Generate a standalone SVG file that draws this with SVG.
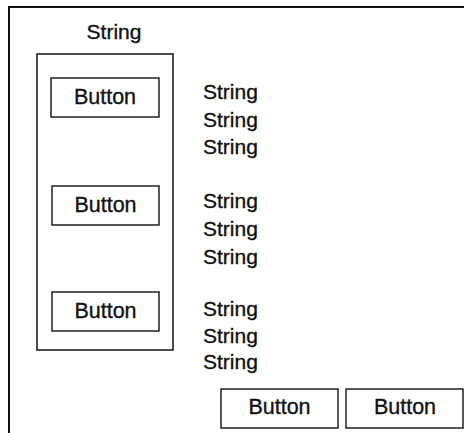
<svg xmlns="http://www.w3.org/2000/svg" width="464" height="433" viewBox="0 0 464 433">
  <style>
    .frame { fill: none; stroke: #111; stroke-width: 2; }
    .panel { fill: none; stroke: #111; stroke-width: 1.5; }
    .btn rect { fill: #fff; stroke: #111; stroke-width: 1.4; }
    text { font-family: "Liberation Sans", Arial, Helvetica, sans-serif; fill: #111; stroke: #111; stroke-width: 0.35; }
    .btn text { font-size: 21.5px; text-anchor: middle; }
    .lbl { font-size: 21px; }
  </style>
  <rect width="464" height="433" fill="#fff"/>

  <!-- outer window frame (right and bottom edges lie outside the view) -->
  <g id="window">
    <rect class="frame" x="9" y="7" width="520" height="500"/>
  </g>

  <g id="title">
    <text class="lbl" x="114" y="39" text-anchor="middle">String</text>
  </g>

  <!-- button column -->
  <g id="panel">
    <rect class="panel" x="37" y="54" width="136" height="296"/>
  </g>
  <g id="button1" class="btn">
    <rect x="51" y="78" width="108" height="39"/>
    <text x="105" y="104">Button</text>
  </g>
  <g id="button2" class="btn">
    <rect x="52" y="186" width="107" height="39"/>
    <text x="105.5" y="212">Button</text>
  </g>
  <g id="button3" class="btn">
    <rect x="52" y="292" width="107" height="39"/>
    <text x="105.5" y="318">Button</text>
  </g>

  <!-- label groups -->
  <g id="labels1">
    <text class="lbl" x="203" y="99">String</text>
    <text class="lbl" x="203" y="127">String</text>
    <text class="lbl" x="203" y="154">String</text>
  </g>
  <g id="labels2">
    <text class="lbl" x="203" y="208">String</text>
    <text class="lbl" x="203" y="236">String</text>
    <text class="lbl" x="203" y="264">String</text>
  </g>
  <g id="labels3">
    <text class="lbl" x="203" y="316">String</text>
    <text class="lbl" x="203" y="343">String</text>
    <text class="lbl" x="203" y="369">String</text>
  </g>

  <!-- bottom buttons -->
  <g id="button4" class="btn">
    <rect x="221" y="389" width="117" height="39"/>
    <text x="279.5" y="414">Button</text>
  </g>
  <g id="button5" class="btn">
    <rect x="346" y="389" width="117" height="39"/>
    <text x="405" y="414">Button</text>
  </g>

  <g id="connectors"/>
</svg>
